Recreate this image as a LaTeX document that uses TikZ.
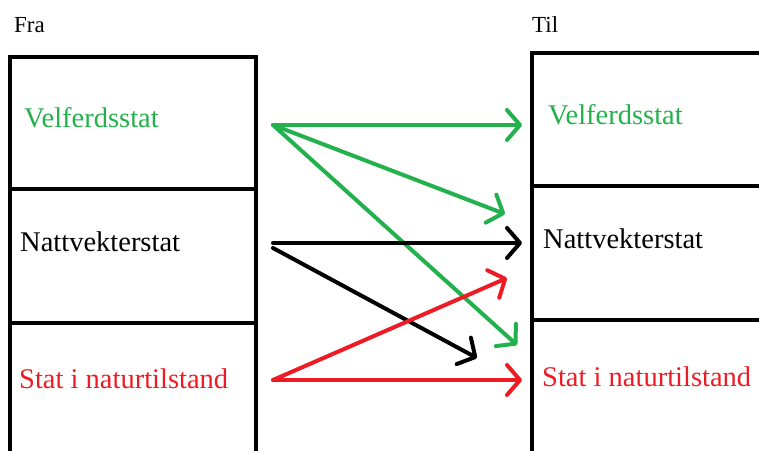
\documentclass[tikz,border=0pt]{standalone}
\usepackage{fontspec}
\setmainfont{Liberation Serif}
\usetikzlibrary{arrows.meta}
\definecolor{paintgreen}{RGB}{34,177,76}
\definecolor{paintred}{RGB}{237,28,36}

\begin{document}
\begin{tikzpicture}[x=1pt, y=-1pt,
	box/.style={draw, line width=4pt, minimum width=246pt, anchor=north west, inner sep=0pt, outer sep=0pt},
	arr/.style={line width=4pt, line cap=round, -{Straight Barb[length=13pt,width=30pt,round]}},
	lbl/.style={anchor=base west, inner sep=0pt, font=\fontsize{28.5}{30}\selectfont},
	head/.style={anchor=base west, inner sep=0pt, font=\fontsize{23}{25}\selectfont}]
	\clip (0,0) rectangle (759,450);
	\fill[white] (0,0) rectangle (759,450);

	% boxes, from and to
	\node[box, minimum height=132pt] (fraV) at (10,57) {};
	\node[box, minimum height=134pt] (fraN) at (10,189) {};
	\node[box, minimum height=150pt] (fraS) at (10,323) {};
	\node[box, minimum height=133pt] (tilV) at (532,53) {};
	\node[box, minimum height=134pt] (tilN) at (532,186) {};
	\node[box, minimum height=150pt] (tilS) at (532,320) {};

	\node[head] (fra) at (14,32) {Fra};
	\node[head] (til) at (532,32) {Til};

	\node[lbl, paintgreen] (fraVtxt) at (24,127) {Velferdsstat};
	\node[lbl] (fraNtxt) at (20,251) {Nattvekterstat};
	\node[lbl, paintred] (fraStxt) at (19,388) {Stat i naturtilstand};
	\node[lbl, paintgreen] (tilVtxt) at (548,124) {Velferdsstat};
	\node[lbl] (tilNtxt) at (543,248) {Nattvekterstat};
	\node[lbl, paintred] (tilStxt) at (542,386) {Stat i naturtilstand};

	% arrow ends
	\coordinate (fV) at (273,125);
	\coordinate (fN) at (273,243);
	\coordinate (fN2) at (273,248);
	\coordinate (fS) at (273,380);
	\coordinate (tV) at (522,125);
	\coordinate (tVN) at (505,214);
	\coordinate (tVS) at (517,345);
	\coordinate (tN) at (522,243);
	\coordinate (tNS) at (477,358);
	\coordinate (tSN) at (507,278);
	\coordinate (tS) at (522,380);

	\draw[arr, paintgreen] (fV) -- (tV);
	\draw[arr, paintgreen] (fV) -- (tVN);
	\draw[arr, paintgreen] (fV) -- (tVS);
	\draw[arr] (fN) -- (tN);
	\draw[arr] (fN2) -- (tNS);
	\draw[arr, paintred] (fS) -- (tSN);
	\draw[arr, paintred] (fS) -- (tS);
\end{tikzpicture}
\end{document}
